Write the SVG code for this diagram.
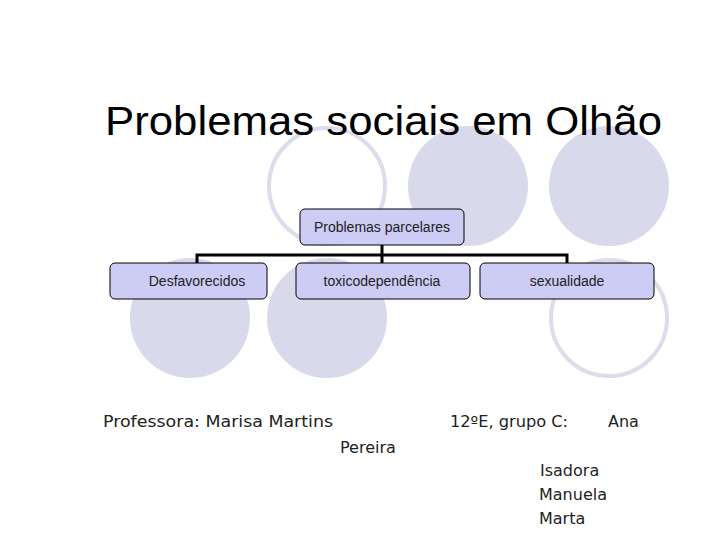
<svg xmlns="http://www.w3.org/2000/svg" width="720" height="540" viewBox="0 0 720 540">
<style>
.f{fill:#d9d9ec}
.r{fill:none;stroke:#dcdcec;stroke-width:4}
.b{fill:#ccccf5;stroke:#000;stroke-width:1}
.t{font-family:"Liberation Sans",Arial,sans-serif;font-size:14px;text-anchor:middle;fill:#222}
.c{stroke:#000;stroke-width:3;fill:none}
.s{font-family:"DejaVu Sans",sans-serif;font-size:16px;fill:#222}
</style>
<rect width="720" height="540" fill="#fff"/>
<circle class="r" cx="327" cy="186" r="58"/>
<circle class="f" cx="468" cy="186" r="60"/>
<circle class="f" cx="609" cy="186" r="60"/>
<circle class="f" cx="190" cy="318" r="60"/>
<circle class="f" cx="327" cy="318" r="60"/>
<circle class="r" cx="609" cy="318" r="58"/>
<text x="105" y="135" font-family="Liberation Sans,Arial,sans-serif" font-size="41" fill="#000" textLength="557" lengthAdjust="spacingAndGlyphs">Problemas sociais em Olhão</text>
<g id="connectors">
<path class="c" d="M382 245V255M197 263V255H567V263M382 255V263"/>
</g>
<g id="root"><rect class="b" x="300" y="209" width="164" height="36" rx="5"/><text class="t" x="382" y="232">Problemas parcelares</text></g>
<g id="desf"><rect class="b" x="110" y="263" width="157" height="36" rx="5"/><text class="t" x="197" y="286">Desfavorecidos</text></g>
<g id="toxico"><rect class="b" x="296" y="263" width="174" height="36" rx="5"/><text class="t" x="382" y="286">toxicodependência</text></g>
<g id="sex"><rect class="b" x="480" y="263" width="174" height="36" rx="5"/><text class="t" x="567" y="286">sexualidade</text></g>
<g class="s">
<text x="103" y="427" textLength="230" lengthAdjust="spacingAndGlyphs">Professora: Marisa Martins</text>
<text x="340" y="453">Pereira</text>
<text x="450" y="427" textLength="118" lengthAdjust="spacingAndGlyphs">12ºE, grupo C:</text>
<text x="608" y="427">Ana</text>
<text x="540" y="476">Isadora</text>
<text x="539" y="500">Manuela</text>
<text x="539" y="524">Marta</text>
</g>
</svg>
